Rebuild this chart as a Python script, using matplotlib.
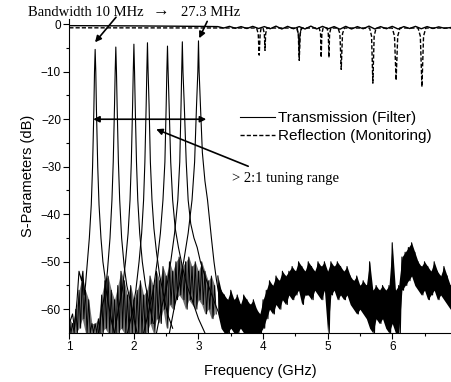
import numpy as np
import matplotlib
matplotlib.use('Agg')
import matplotlib.pyplot as plt

# --- transmission (filter) peaks ---
t1_f = [1.00, 1.05, 1.08, 1.12, 1.15, 1.17, 1.19, 1.21, 1.23, 1.25, 1.28, 1.31, 1.34, 1.36, 1.38, 1.39, 1.40,
        1.41, 1.42, 1.44, 1.46, 1.49, 1.52, 1.55, 1.58, 1.62, 1.66, 1.70]
t1_db = [-63, -61, -64, -58, -52, -53, -54, -52, -57, -55, -50, -45, -38, -30, -18, -10, -5.3,
         -10, -18, -30, -38, -45, -50, -53, -57, -60, -63, -65]
t2_f = [1.45, 1.50, 1.55, 1.59, 1.63, 1.66, 1.68, 1.70, 1.71, 1.72, 1.73, 1.74, 1.76, 1.78, 1.81, 1.85, 1.89,
        1.94, 2.00, 2.05]
t2_db = [-65, -60, -57, -52, -45, -37, -29, -17, -10, -4.8, -10, -17, -29, -37, -45, -51, -55, -58, -62, -65]
t3_f = [1.70, 1.76, 1.82, 1.87, 1.91, 1.94, 1.96, 1.98, 1.99, 2.00, 2.01, 2.02, 2.04, 2.06, 2.09, 2.13, 2.18,
        2.24, 2.30]
t3_db = [-65, -60, -56, -50, -44, -37, -29, -17, -10, -4.2, -10, -17, -29, -37, -44, -50, -55, -59, -63]
t4_f = [1.90, 1.97, 2.03, 2.08, 2.12, 2.15, 2.17, 2.19, 2.20, 2.21, 2.22, 2.235, 2.255, 2.28, 2.31, 2.35, 2.40,
        2.46, 2.52, 2.60]
t4_db = [-65, -61, -56, -50, -44, -37, -29, -17, -10, -3.9, -10, -17, -29, -37, -43, -48, -53, -57, -61, -64]
t5_f = [2.15, 2.22, 2.30, 2.36, 2.41, 2.45, 2.48, 2.50, 2.51, 2.52, 2.53, 2.545, 2.57, 2.60, 2.64, 2.69, 2.75,
        2.82, 2.90, 3.00, 3.10]
t5_db = [-65, -61, -56, -50, -44, -37, -29, -17, -10, -4.6, -10, -17, -29, -37, -43, -47, -51, -55, -58, -62, -65]
t6_f = [2.35, 2.42, 2.50, 2.57, 2.63, 2.68, 2.71, 2.73, 2.74, 2.75, 2.76, 2.78, 2.81, 2.84, 2.88, 2.93, 2.98,
        3.03, 3.10, 3.18, 3.26, 3.35, 3.45]
t6_db = [-65, -60, -56, -50, -44, -37, -29, -17, -10, -3.7, -10, -17, -29, -37, -42, -45, -47, -50, -53, -56,
         -59, -62, -65]
t7_f = [2.55, 2.62, 2.70, 2.77, 2.84, 2.90, 2.94, 2.97, 2.99, 3.00, 3.01, 3.03, 3.06, 3.10, 3.14, 3.17, 3.20,
        3.24, 3.28, 3.33, 3.40, 3.48]
t7_db = [-65, -60, -55, -50, -44, -37, -29, -17, -10, -3.5, -10, -17, -27, -33, -37, -41, -45, -50, -54, -58,
         -62, -65]
peak_f = [t1_f, t2_f, t3_f, t4_f, t5_f, t6_f, t7_f]
peak_db = [t1_db, t2_db, t3_db, t4_db, t5_db, t6_db, t7_db]

# --- noise floor: upper / lower edge of the black band ---
low_f = np.round(np.arange(1.00, 3.27, 0.05), 2)
low_hi = [-62, -63, -60, -56, -53, -56, -58, -63, -63, -62, -57, -54, -53, -56, -58, -55, -52, -54, -57, -55,
          -58, -56, -54, -57, -56, -53, -55, -52, -54, -51, -53, -50, -52, -50, -49, -51, -50, -49, -51, -50,
          -52, -50, -52, -54, -53, -55]
low_lo = [-65, -65, -65, -64, -62, -65, -65, -65, -65, -65, -65, -64, -65, -65, -65, -65, -64, -65, -65, -65,
          -65, -65, -65, -65, -65, -63, -65, -62, -63, -60, -64, -59, -60, -58, -57, -58, -60, -58, -59, -60,
          -58, -59, -61, -60, -62, -61]
high_f = np.round(np.arange(3.30, 6.97, 0.05), 2)
high_hi = [-53, -56, -57, -58, -56, -58, -57, -59, -57, -58, -59, -58, -60, -61, -58, -56, -54, -55, -53, -54,
           -52, -53, -52, -51, -52, -50, -51, -52, -50, -51, -52, -50, -51, -50, -52, -50, -51, -50, -51, -52,
           -51, -53, -54, -53, -55, -54, -55, -50, -56, -55, -56, -55, -56, -55, -46, -56, -55, -49, -48, -47,
           -46, -48, -50, -51, -50, -51, -52, -50, -52, -53, -51, -53, -55, -54]
high_lo = [-61, -64, -65, -65, -64, -65, -65, -64, -65, -65, -65, -65, -65, -65, -64, -62, -60, -61, -59, -60,
           -58, -59, -57, -58, -57, -56, -59, -57, -57, -58, -56, -57, -58, -56, -65, -57, -56, -58, -57, -58,
           -57, -59, -60, -61, -60, -61, -62, -64, -65, -62, -63, -62, -64, -65, -63, -65, -65, -56, -55, -54,
           -53, -55, -56, -57, -56, -58, -57, -56, -58, -57, -58, -59, -60, -59]

# --- near 0 dB: solid ripple and dashed reflection with notches ---
top_f = [1.00, 2.00, 3.00] + list(np.round(np.arange(3.30, 6.92, 0.09), 2))
top_db = [-0.3, -0.35, -0.45,
          -0.5, -0.8, -0.45, -0.85, -0.5, -0.9, -0.45, -0.9, -0.5, -0.95, -0.4, -1.0, -0.45, -0.95, -0.5, -1.0,
          -0.4, -1.0, -0.45, -0.95, -0.5, -1.05, -0.45, -1.0, -0.5, -0.95, -0.4, -1.0, -0.5, -0.95, -0.45, -1.0,
          -0.5, -0.9, -0.45, -0.95, -0.5, -0.9, -0.55, -0.85, -0.7]
dip_f = [4.53, 4.55, 4.56, 4.57, 4.59]
dip_db = [-0.8, -2.5, -6.9, -2.5, -0.8]
refl_f = [1.00, 3.90, 3.925, 3.94, 3.955, 3.97, 4.00, 4.02, 4.03, 4.04, 4.06,
          4.52, 4.545, 4.56, 4.575, 4.60, 4.87, 4.89, 4.90, 4.91, 4.93, 4.99, 5.01, 5.02, 5.03, 5.05,
          5.16, 5.19, 5.21, 5.23, 5.26, 5.65, 5.68, 5.70, 5.72, 5.75, 6.00, 6.035, 6.06, 6.085, 6.12,
          6.40, 6.435, 6.46, 6.485, 6.52, 6.95]
refl_db = [-0.75, -0.8, -2.0, -6.5, -2.0, -0.8, -0.8, -2.0, -5.5, -2.0, -0.8,
           -0.8, -2.0, -7.6, -2.0, -0.8, -0.8, -2.0, -7.0, -2.0, -0.8, -0.8, -2.0, -7.0, -2.0, -0.8,
           -0.8, -2.0, -9.5, -2.0, -0.8, -0.8, -2.5, -12.4, -2.5, -0.8, -0.8, -2.5, -11.8, -2.5, -0.8,
           -0.8, -2.5, -13.2, -2.5, -0.8, -0.8]


def zigzag(f, hi, lo, step):
    xs, ys = [], []
    for fi, h, l in zip(f, hi, lo):
        xs += [fi, fi + step / 2]
        ys += [h, l]
    return xs, ys


fig = plt.figure(figsize=(4.51, 3.82), dpi=100)
ax = fig.add_axes([0.1537, 0.1283, 0.8463, 0.8207])

sans = ['Liberation Sans', 'DejaVu Sans']
serif = ['Liberation Serif', 'DejaVu Serif']

# noise band: a dark core between the edges, jagged lines on top
ax.fill_between(low_f, low_hi, low_lo, color='black', alpha=0.55, lw=0)
x, y = zigzag(low_f, low_hi, low_lo, 0.05)
ax.plot(x, y, color='black', lw=0.7)
ax.fill_between(high_f, high_hi, high_lo, color='black', lw=0)
x, y = zigzag(high_f, high_hi, high_lo, 0.05)
ax.plot(x, y, color='black', lw=0.8)

trans_line = None
for f, db in zip(peak_f, peak_db):
    trans_line, = ax.plot(f, db, color='black', lw=0.8)

ax.plot(top_f, top_db, color='black', lw=1.0)
ax.plot(dip_f, dip_db, color='black', lw=0.8)
refl_line, = ax.plot(refl_f, refl_db, color='black', lw=1.0, linestyle=(0, (3, 1.5)))

ax.set_xlim(1, 6.91)
ax.set_ylim(-65, 1)
ax.set_xticks([1, 2, 3, 4, 5, 6])
ax.set_xticks(np.arange(1.5, 6.6, 1), minor=True)
ax.set_yticks([0, -10, -20, -30, -40, -50, -60])
ax.set_yticks(np.arange(-55, 0, 10), minor=True)
ax.spines['top'].set_visible(False)
ax.spines['right'].set_visible(False)
ax.tick_params(which='major', direction='out', length=4, width=0.8, labelsize=8.5, pad=2)
ax.tick_params(which='minor', direction='out', length=2.5, width=0.8)
for lab in ax.get_xticklabels() + ax.get_yticklabels():
    lab.set_family(sans)

ax.set_xlabel('Frequency (GHz)', fontsize=10.5, family=sans, labelpad=8)
ax.set_ylabel('S-Parameters (dB)', fontsize=10.5, family=sans, labelpad=4)

leg = ax.legend([trans_line, refl_line], ['Transmission (Filter)', 'Reflection (Monitoring)'],
                loc='center left', bbox_to_anchor=(0.447, 0.657), frameon=False,
                prop={'family': sans, 'size': 11}, handlelength=2.3, handletextpad=0.2,
                labelspacing=0.25, borderpad=0, borderaxespad=0)

# annotations
ap = dict(arrowstyle='-|>', color='black', lw=1.2, mutation_scale=9, shrinkA=0, shrinkB=0)
ax.annotate('', xy=(1.398, -3.8), xytext=(1.723, 1.47), arrowprops=ap, annotation_clip=False)
ax.annotate('', xy=(3.011, -2.95), xytext=(3.135, 0.6), arrowprops=ap, annotation_clip=False)
ax.annotate('', xy=(1.37, -20), xytext=(3.12, -20),
            arrowprops=dict(arrowstyle='<|-|>', color='black', lw=1.2, mutation_scale=9, shrinkA=0, shrinkB=0))
ax.annotate('', xy=(2.345, -22.1), xytext=(3.77, -29.9), arrowprops=ap)
ax.text(3.52, -32.5, '> 2:1 tuning range', family=serif, fontsize=10.5, va='center', ha='left')

fig.text(28 / 451, 1 - 12 / 382, 'Bandwidth 10 MHz', family=serif, fontsize=10.5, va='center', ha='left')
fig.text(161 / 451, 1 - 12 / 382, '\u2192', family=serif, fontsize=12, va='center', ha='center')
fig.text(181 / 451, 1 - 12 / 382, '27.3 MHz', family=serif, fontsize=10.5, va='center', ha='left')

fig.savefig('out.png', dpi=100)
